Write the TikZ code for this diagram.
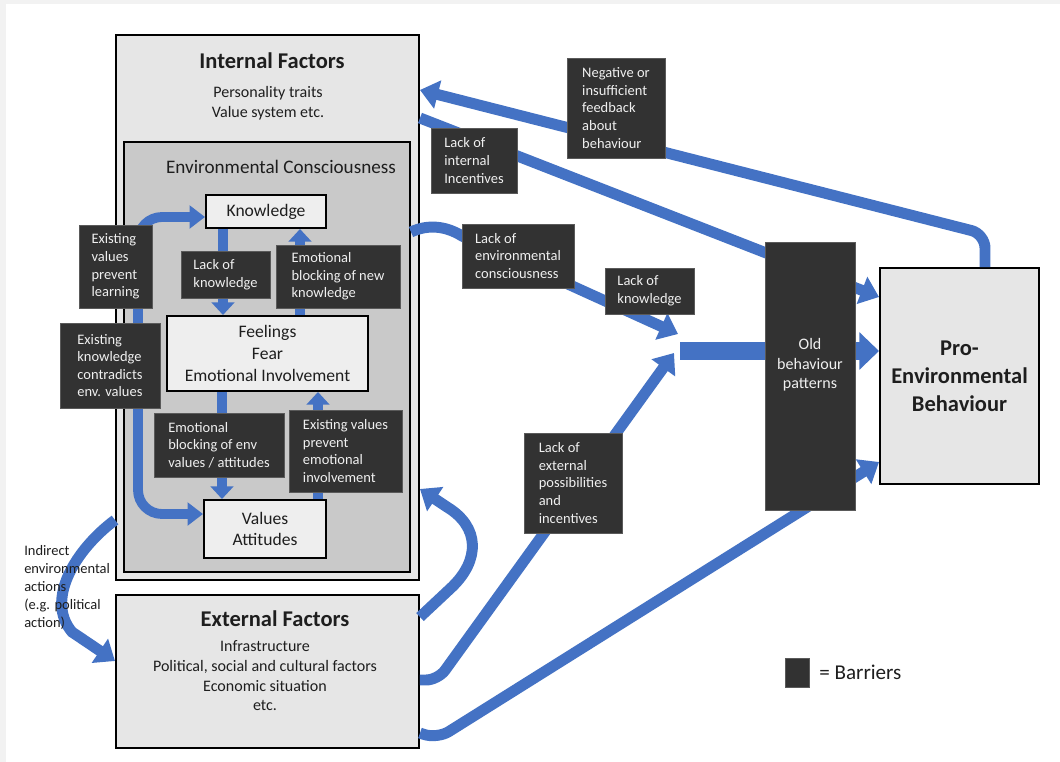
\documentclass[tikz,border=0pt]{standalone}
\usepackage{fontspec}
\setmainfont{Carlito}
\usetikzlibrary{arrows.meta}
\definecolor{arrowblue}{HTML}{4472C4}
\definecolor{barrierfill}{HTML}{323232}
\definecolor{barrierline}{HTML}{5A5A5A}
\definecolor{outerbg}{HTML}{F2F2F2}
\definecolor{boxgray}{HTML}{E6E6E6}
\definecolor{envgray}{HTML}{C9C9C9}
\definecolor{innerbox}{HTML}{EEEEEE}
\definecolor{txt}{HTML}{1E1E1E}
\tikzset{
  x=0.025cm, y=-0.025cm,
  sz/.style 2 args={minimum width=#1*0.025cm, minimum height=#2*0.025cm},
  mainbox/.style={draw=black, line width=1.4pt, fill=boxgray, inner sep=0pt},
  innerbx/.style={draw=black, line width=1.4pt, fill=innerbox, align=center, text=txt,
    inner sep=0pt, font=\fontsize{12.5}{15.5}\selectfont},
  barrier/.style={draw=barrierline, line width=0.5pt, fill=barrierfill, text=white!94!black,
    align=left, inner sep=0pt, font=\fontsize{10.3}{12.5}\selectfont},
  plain/.style={text=txt, align=center, inner sep=0pt},
  flow/.style={draw=arrowblue, line width=7.8pt, -{Triangle[width=20pt,length=13pt]}},
  innerflow/.style={draw=arrowblue, line width=7pt, -{Triangle[width=16pt,length=9pt]}},
  bigflow/.style={draw=arrowblue, line width=12.8pt, -{Triangle[width=26pt,length=14pt]}},
}
\begin{document}
\begin{tikzpicture}
\useasboundingbox (0,0) rectangle (1060,762);
\fill[outerbg] (0,0) rectangle (1060,762);
\fill[white] (6,4) rectangle (1060,762);

% main boxes
\node[mainbox, sz={303}{545}] (intf) at (267.5,307.5) {};
\node[plain, font=\fontsize{16}{19}\selectfont\bfseries] (intftitle) at (272,61) {Internal Factors};
\node[plain, font=\fontsize{11.4}{14}\selectfont] (intftext) at (268,103) {Personality traits\\Value system etc.};

\node[mainbox, fill=envgray, sz={286}{430}] (envc) at (267,357) {};
\node[plain, font=\fontsize{13.6}{16}\selectfont] (envctitle) at (281,167) {Environmental Consciousness};

\node[innerbx, sz={120}{33}] (know) at (266,211.5) {Knowledge};
\node[innerbx, sz={201}{75}] (feel) at (267.5,353.5) {Feelings\\Fear\\Emotional Involvement};
\node[innerbx, sz={122}{58}] (vals) at (265,529) {Values\\Attitudes};

\node[mainbox, sz={303}{153}] (extf) at (267.5,671.5) {};
\node[plain, font=\fontsize{16}{19}\selectfont\bfseries] (extftitle) at (275,619) {External Factors};
\node[plain, font=\fontsize{11.4}{14}\selectfont] (extftext) at (265,676) {Infrastructure\\Political, social and cultural factors\\Economic situation\\etc.};

\node[mainbox, sz={159}{216}, align=center, text=txt, font=\fontsize{16}{20}\selectfont\bfseries] (pro) at (959.5,376) {Pro-\\Environmental\\Behaviour};

% helper coordinates
\coordinate (aX) at (985,0);
\coordinate (aC) at (985,234);
\coordinate (aY) at (0,90);
\coordinate (bY1) at (0,118);
\coordinate (bY2) at (0,297);
\coordinate (cY) at (0,232);
\coordinate (jn1) at (678,334);
\coordinate (dY) at (0,680);
\coordinate (dC) at (438,680);
\coordinate (jn2) at (674,353);
\coordinate (jn3) at (680,351);
\coordinate (fY1) at (0,733);
\coordinate (fC) at (437,739);
\coordinate (fY2) at (0,462);
\coordinate (gY1) at (0,617);
\coordinate (gY2) at (0,489);
\coordinate (hY1) at (0,520);
\coordinate (hY2) at (0,661);
\coordinate (k1) at (223,0);
\coordinate (k2) at (300,0);
\coordinate (k3) at (222,0);
\coordinate (k4) at (318,0);
\coordinate (lY1) at (0,217);
\coordinate (lY2) at (0,514);
\coordinate (lX) at (138,400);

% outer flows
\draw[flow, rounded corners=0.35cm] (pro.north -| aX) -- (aC) -- (intf.east |- aY);
\draw[flow] (intf.east |- bY1) -- (pro.west |- bY2);
\draw[flow] (envc.east |- cY) .. controls (428,224) and (446,226) .. (462,236) -- (jn1);
\draw[flow, rounded corners=0.3cm] (extf.east |- dY) -- (dC) -- (jn2);
\draw[bigflow] (jn3) -- (pro.west |- jn3);
\draw[flow, rounded corners=0.35cm] (extf.east |- fY1) -- (fC) -- (pro.west |- fY2);
\draw[flow] (extf.east |- gY1) -- (452,587) .. controls (480,560) and (480,527) .. (447,507) -- (intf.east |- gY2);
\draw[flow] (intf.west |- hY1) .. controls (75,550) and (45,600) .. (72,632) -- (extf.west |- hY2);

% inner flows
\draw[innerflow] (know.south -| k1) -- (feel.north -| k1);
\draw[innerflow] (feel.north -| k2) -- (know.south -| k2);
\draw[innerflow] (feel.south -| k3) -- (vals.north -| k3);
\draw[innerflow] (vals.north -| k4) -- (feel.south -| k4);
\draw[innerflow, {Triangle[width=16pt,length=11pt]}-{Triangle[width=16pt,length=11pt]}, rounded corners=0.6cm]
  (know.west |- lY1) -| (lX) |- (vals.west |- lY2);

% barriers
\node[barrier, sz={98}{100}] (bfeed) at (616,108) {Negative or\\insufficient\\feedback\\about\\behaviour};
\node[barrier, sz={86}{65}] (binc) at (474,160.5) {Lack of\\internal\\Incentives};
\node[barrier, sz={112}{64}] (benv) at (518,256) {Lack of\\environmental\\consciousness};
\node[barrier, sz={89}{46}] (bknow) at (649.5,291) {Lack of\\knowledge};
\node[barrier, sz={98}{100}] (bext) at (573,483) {Lack of\\external\\possibilities\\and\\incentives};
\node[barrier, sz={73}{83}] (blearn) at (115.5,266.5) {Existing\\values\\prevent\\learning};
\node[barrier, sz={100}{85}] (bcontra) at (110,365.5) {Existing\\knowledge\\contradicts\\env. values};
\node[barrier, sz={89}{47}] (bknowin) at (225.5,274.5) {Lack of\\knowledge};
\node[barrier, sz={124}{63}] (bblocknew) at (338,276.5) {Emotional\\blocking of new\\knowledge};
\node[barrier, sz={130}{64}] (bblockenv) at (219,445) {Emotional\\blocking of env\\values / attitudes};
\node[barrier, sz={113}{82}] (bemo) at (345.5,451) {Existing values\\prevent\\emotional\\involvement};
\node[barrier, sz={90}{268}] (old) at (810,376) {};
\node[plain, text=white!94!black, font=\fontsize{11.4}{14}\selectfont] (oldtxt) at (810,365) {Old\\behaviour\\patterns};

% legend
\node[barrier, sz={24}{29}] (legbox) at (797,672.5) {};
\node[plain, anchor=west, font=\fontsize{15}{18}\selectfont] (legtxt) at (819,672.5) {= Barriers};

% indirect actions text
\node[plain, anchor=north west, align=left, font=\fontsize{10.3}{12.8}\selectfont] (indirect) at (24,545) {Indirect\\environmental\\actions\\(e.g. political\\action)};
\end{tikzpicture}
\end{document}
